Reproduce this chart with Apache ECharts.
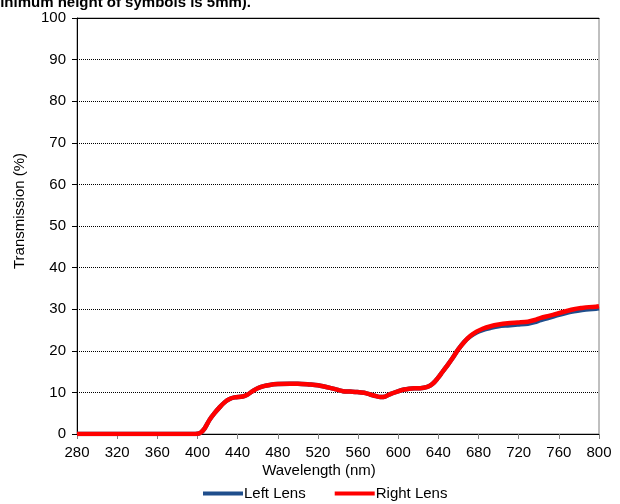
<!DOCTYPE html>
<html><head><meta charset="utf-8">
<script src="https://cdn.jsdelivr.net/npm/echarts@6/dist/echarts.min.js"></script>
<style>html,body{margin:0;padding:0;background:#fff}#c{width:620px;height:504px}</style>
</head><body><div id="c"></div>
<script>
var wavelengths = [280,300,320,340,360,380,395,400,403,407,412,417,422,427,432,437,445,450,455,460,466,472,480,492,500,512,520,532,540,545,552,559,566,572,578,582,587,592,599,606,611,616,622,629,634,639,644,649,654,660,666,672,678,684,692,700,709,719,729,736,742,750,758,767,775,783,790,797,800];
var rightLens = [0,0,0,0,0,0,0,0.05,0.3,1.3,3.4,5.0,6.4,7.6,8.4,8.8,9.0,9.5,10.3,11.0,11.5,11.8,12.0,12.1,12.1,11.9,11.7,11.1,10.6,10.3,10.2,10.1,9.9,9.5,9.1,8.9,9.0,9.6,10.2,10.7,10.9,11.0,11.0,11.3,12.0,13.3,14.9,16.5,18.2,20.4,22.2,23.6,24.6,25.3,25.9,26.3,26.6,26.8,27.0,27.4,27.9,28.4,28.9,29.5,30.0,30.3,30.5,30.6,30.7];
var leftLens = [0,0,0,0,0,0,0,0.05,0.3,1.3,3.4,5.0,6.4,7.6,8.4,8.8,9.0,9.5,10.3,11.0,11.5,11.8,12.0,12.1,12.1,11.9,11.7,11.1,10.6,10.3,10.2,10.1,9.9,9.5,9.1,8.9,9.0,9.6,10.2,10.7,10.9,11.0,11.0,11.3,12.0,13.3,14.9,16.5,18.2,20.4,22.2,23.5,24.4,25.0,25.5,25.9,26.1,26.3,26.5,26.9,27.4,27.9,28.5,29.1,29.5,29.8,30.0,30.1,30.2];
var xTicks = [280,320,360,400,440,480,520,560,600,640,680,720,760,800];
var yTicks = [0,10,20,30,40,50,60,70,80,90,100];

function pairs(xs, ys){ return xs.map(function(x,i){ return [x, ys[i]]; }); }

var chart = echarts.init(document.getElementById('c'), null, {renderer:'canvas'});
var font = 'Arial, "Liberation Sans", sans-serif';
chart.setOption({
  animation:false,
  backgroundColor:'#fff',
  textStyle:{fontFamily:font},
  graphic:[
    {type:'text', x:251, y:10, style:{text:'Minimum height of symbols is 5mm).', font:'bold 15px '+font, fill:'#000', textAlign:'right', textVerticalAlign:'bottom'}},
    {type:'text', x:319, y:471, style:{text:'Wavelength (nm)', font:'15px '+font, fill:'#000', textAlign:'center', textVerticalAlign:'middle'}},
    {type:'text', x:20, y:211, rotation:Math.PI/2, style:{text:'Transmission (%)', font:'15px '+font, fill:'#000', textAlign:'center', textVerticalAlign:'middle'}}
  ],
  grid:{left:77, right:21, top:18, bottom:70, show:true, borderColor:'#808080', borderWidth:1, backgroundColor:'#fff'},
  legend:{top:486, left:203, itemWidth:40, itemHeight:4, itemGap:29, icon:'rect', padding:0,
    textStyle:{fontSize:15, color:'#000', fontFamily:font, padding:[0,0,0,-4]},
    data:[{name:'Left Lens', itemStyle:{color:'#1f4e8c'}},{name:'Right Lens', itemStyle:{color:'#ff0000'}}]},
  xAxis:[{type:'value', min:280, max:800, interval:40, position:'bottom',
    axisLine:{lineStyle:{color:'#000', width:1}}, axisTick:{show:true, length:5, lineStyle:{color:'#808080'}},
    axisLabel:{fontSize:15, color:'#000', margin:11}, splitLine:{show:false}},
   {type:'value', min:280, max:800, position:'top', axisLine:{show:true, lineStyle:{color:'#000'}}, axisTick:{show:false}, axisLabel:{show:false}, splitLine:{show:false}}],
  yAxis:[{type:'value', min:0, max:100, interval:10,
    axisLine:{show:true, lineStyle:{color:'#000'}}, axisTick:{show:true, length:5, lineStyle:{color:'#000'}},
    axisLabel:{fontSize:15, color:'#000', margin:11},
    splitLine:{show:true, lineStyle:{color:'#000', type:[1,1], width:1}}}],
  series:[
    {name:'Left Lens', type:'line', data:pairs(wavelengths,leftLens), showSymbol:false, smooth:0.3, lineStyle:{color:'#1f4e8c', width:4.5}, itemStyle:{color:'#1f4e8c'}, z:2},
    {name:'Right Lens', type:'line', data:pairs(wavelengths,rightLens), showSymbol:false, smooth:0.3, lineStyle:{color:'#ff0000', width:4.5}, itemStyle:{color:'#ff0000'}, z:3}
  ]
});
</script></body></html>
